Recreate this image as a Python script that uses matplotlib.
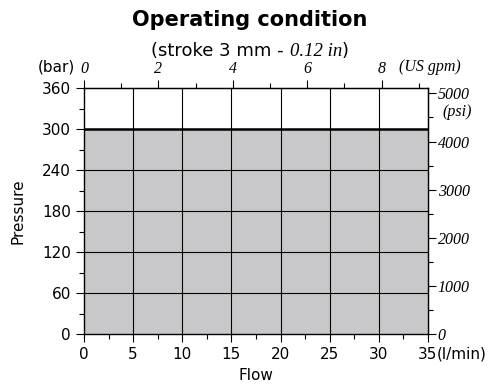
import matplotlib
matplotlib.use("Agg")
import matplotlib.pyplot as plt
from matplotlib.font_manager import FontProperties
from matplotlib.ticker import MultipleLocator

# operating envelope
flow_range = [0, 35]          # l/min
max_pressure = 300            # bar
flow_ticks = [0, 5, 10, 15, 20, 25, 30, 35]
pressure_ticks = [0, 60, 120, 180, 240, 300, 360]
gpm_ticks = [0, 2, 4, 6, 8]
psi_ticks = [0, 1000, 2000, 3000, 4000, 5000]

LPM_PER_GPM = 3.785
PSI_PER_BAR = 14.2

sans = "DejaVu Sans"
serif = {"family": "Liberation Serif", "style": "italic"}

fig = plt.figure(figsize=(4.96, 3.87), dpi=100)
ax = fig.add_axes([84 / 496, 53 / 387, 344 / 496, 246 / 387])

ax.fill_between(flow_range, 0, max_pressure, color="#c8c8ca", lw=0, zorder=1)
ax.plot(flow_range, [max_pressure, max_pressure], color="black", lw=1.8, zorder=3)

for x in flow_ticks[1:-1]:
    ax.axvline(x, color="black", lw=0.8, zorder=2)
for y in pressure_ticks[1:-1]:
    ax.axhline(y, color="black", lw=0.8, zorder=2)

ax.set_xlim(flow_range)
ax.set_ylim(0, 360)
ax.set_xticks(flow_ticks)
ax.set_yticks(pressure_ticks)
ax.xaxis.set_minor_locator(MultipleLocator(2.5))
ax.yaxis.set_minor_locator(MultipleLocator(30))
ax.tick_params(which="major", length=6, width=0.8, labelsize=11, direction="out")
ax.tick_params(which="minor", length=3.5, width=0.8, direction="out")
for lab in ax.get_xticklabels() + ax.get_yticklabels():
    lab.set_fontfamily(sans)
for s in ax.spines.values():
    s.set_linewidth(1.0)

ax.set_xlabel("Flow", fontsize=11, family=sans, labelpad=4)
ax.set_ylabel("Pressure", fontsize=11, family=sans, labelpad=12)

# US gpm on top
top = ax.secondary_xaxis("top", functions=(lambda v: v / LPM_PER_GPM,
                                          lambda v: v * LPM_PER_GPM))
top.set_xticks(gpm_ticks)
top.xaxis.set_minor_locator(MultipleLocator(1))
top.tick_params(which="major", length=6, width=0.8, pad=2)
top.tick_params(which="minor", length=3.5, width=0.8)
for lab in top.get_xticklabels():
    lab.set_fontproperties(FontProperties(size=11.5, **serif))

# psi on the right
right = ax.secondary_yaxis("right", functions=(lambda v: v * PSI_PER_BAR,
                                              lambda v: v / PSI_PER_BAR))
right.set_yticks(psi_ticks)
right.yaxis.set_minor_locator(MultipleLocator(500))
right.tick_params(which="major", length=6, width=0.8, pad=1)
right.tick_params(which="minor", length=3.5, width=0.8)
for lab in right.get_yticklabels():
    lab.set_fontproperties(FontProperties(size=11.5, **serif))


def px(x, y):
    return x / 496, 1 - y / 387


fig.text(*px(250, 20), "Operating condition", ha="center", va="center",
         fontsize=15, fontweight="bold", family=sans)

# subtitle: mixed fonts laid out piece by piece
parts = [("(stroke 3 mm - ", dict(fontsize=13, family=sans)),
         ("0.12 in", dict(fontsize=13.5, **serif)),
         (")", dict(fontsize=13, family=sans))]
renderer = fig.canvas.get_renderer()
pieces = []
total = 0
for s, kw in parts:
    t = fig.text(0, 0, s, va="baseline", **kw)
    w = t.get_window_extent(renderer).width
    pieces.append((t, w))
    total += w
x0 = 250 - total / 2
for t, w in pieces:
    t.set_position(px(x0, 56))
    x0 += w

fig.text(*px(75, 67), "(bar)", ha="right", va="center", fontsize=11, family=sans)
fig.text(*px(399, 67), "(US gpm)", ha="left", va="center", fontsize=11.5, **serif)
fig.text(*px(437, 354), "(l/min)", ha="left", va="center", fontsize=11, family=sans)
fig.text(*px(442, 112), "(psi)", ha="left", va="center", fontsize=11.5, **serif)

fig.savefig("out.png", dpi=100)
